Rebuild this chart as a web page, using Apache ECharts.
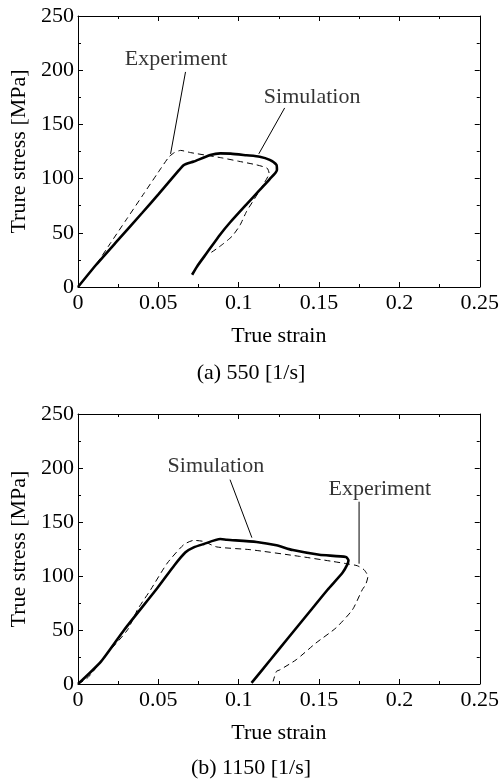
<!DOCTYPE html>
<html>
<head>
<meta charset="utf-8">
<script src="https://cdn.jsdelivr.net/npm/echarts@6/dist/echarts.min.js"></script>
<style>
  html, body { margin: 0; padding: 0; background: #fff; }
  #chart { width: 502px; height: 782px; }
</style>
</head>
<body>
<div id="chart"></div>
<script>
// Stress-strain curves at two strain rates: [true strain, true stress (MPa)]
const strainTicks = [0, 0.05, 0.1, 0.15, 0.2, 0.25];
const stressTicks = [0, 50, 100, 150, 200, 250];

// (a) 550 1/s
const expA = [
  [0, 0], [0.005, 9], [0.0114, 21], [0.02, 40], [0.03, 62], [0.04, 84], [0.05, 106],
  [0.0566, 120], [0.060, 124], [0.0638, 126], [0.070, 124], [0.080, 121.5], [0.090, 119],
  [0.100, 116], [0.111, 112.7], [0.1177, 109.6], [0.1189, 105], [0.1152, 94.3],
  [0.1101, 82], [0.1049, 69.7], [0.1008, 57], [0.0960, 47], [0.0905, 40],
  [0.0860, 35], [0.0830, 32]
];
const simA = [
  [0, 0], [0.0113, 20.5], [0.0247, 43], [0.040, 68.5], [0.050, 85.5], [0.0627, 107.5],
  [0.0658, 112.5], [0.072, 115.7], [0.0823, 121.7], [0.0885, 123.3], [0.095, 123],
  [0.1049, 121.5], [0.1131, 120.2], [0.1193, 117.3], [0.1235, 112.7], [0.1238, 108],
  [0.1193, 99.5], [0.1131, 89.5], [0.105, 76.5], [0.0946, 59.5], [0.0885, 48.5],
  [0.0802, 31.5], [0.0741, 19], [0.071, 11.3]
];

// (b) 1150 1/s
const expB = [
  [0, 0], [0.0062, 6], [0.0185, 28.7], [0.0309, 50.3], [0.037, 68.8], [0.0452, 87.3],
  [0.0556, 112], [0.0658, 129], [0.072, 133], [0.0781, 132], [0.0864, 126.9],
  [0.107, 124.4], [0.1378, 118.2], [0.1584, 113.5], [0.1687, 111], [0.1738, 109.5],
  [0.178, 105.8], [0.1804, 99.6], [0.179, 92], [0.1769, 87.3], [0.1708, 68.8],
  [0.1605, 51.9], [0.1481, 38], [0.1358, 22.5], [0.1255, 13], [0.1235, 11.7], [0.1214, 2.4]
];
const simB = [
  [0, 0], [0.0144, 21], [0.0288, 50.3], [0.0494, 88.9], [0.060, 110], [0.0669, 122],
  [0.072, 126.5], [0.078, 129.5], [0.0885, 134.2], [0.0926, 133.6], [0.1111, 131.5],
  [0.1235, 128.4], [0.1337, 124], [0.1502, 119.7], [0.1667, 117.6], [0.1683, 114.5],
  [0.1677, 111], [0.1646, 103], [0.1553, 87.3], [0.145, 68.5], [0.130, 41.2],
  [0.120, 22.9], [0.108, 1]
];

// Callouts: label, point on curve, end of leader, label anchor (data units)
const calloutsA = [
  { text: 'Experiment', tip: [0.0576, 122.8], end: [0.0669, 198.4], at: [0.061, 210.4] },
  { text: 'Simulation', tip: [0.1125, 122.8], end: [0.1286, 165.2], at: [0.1457, 175.4] }
];
const calloutsB = [
  { text: 'Simulation', tip: [0.1082, 135.5], end: [0.0946, 189.2], at: [0.0858, 201.2] },
  { text: 'Experiment', tip: [0.1749, 111.4], end: [0.1749, 168.8], at: [0.1878, 180.8] }
];

const FONT = '"Liberation Serif", "Times New Roman", serif';
const INK = '#000';

const chart = echarts.init(document.getElementById('chart'), null, { renderer: 'canvas' });

const grids = [
  { left: 77, top: 16, width: 405, height: 271 },
  { left: 77, top: 414, width: 405, height: 270 }
];

function fmtStrain(v) { return String(parseFloat(v.toFixed(3))); }

function frameAxis(extra) {
  return Object.assign({
    type: 'value',
    axisLine: { show: true, onZero: false, lineStyle: { color: INK, width: 1 } },
    axisTick: { show: true, inside: true, length: 5, lineStyle: { color: INK } },
    minorTick: { show: true, splitNumber: 2, length: 3, lineStyle: { color: INK } },
    splitLine: { show: false }
  }, extra);
}

function xAxisPair(gi) {
  const range = {
    gridIndex: gi, min: strainTicks[0], max: strainTicks[strainTicks.length - 1],
    interval: strainTicks[1] - strainTicks[0]
  };
  return [
    frameAxis(Object.assign({}, range, {
      position: 'bottom',
      axisLabel: { show: true, color: INK, fontFamily: FONT, fontSize: 22, margin: 5, formatter: fmtStrain },
      name: 'True strain', nameLocation: 'middle', nameGap: 38,
      nameTextStyle: { color: INK, fontFamily: FONT, fontSize: 22 }
    })),
    frameAxis(Object.assign({}, range, { position: 'top', axisLabel: { show: false } }))
  ];
}

function yAxisPair(gi, title) {
  const range = {
    gridIndex: gi, min: stressTicks[0], max: stressTicks[stressTicks.length - 1],
    interval: stressTicks[1] - stressTicks[0]
  };
  return [
    frameAxis(Object.assign({}, range, {
      position: 'left',
      axisLabel: { show: true, color: INK, fontFamily: FONT, fontSize: 22, margin: 4 },
      name: title, nameLocation: 'middle', nameGap: 48,
      nameTextStyle: { color: INK, fontFamily: FONT, fontSize: 22 }
    })),
    frameAxis(Object.assign({}, range, { position: 'right', axisLabel: { show: false } }))
  ];
}

function curve(data, axisIdx, dashed) {
  return {
    type: 'line', xAxisIndex: axisIdx, yAxisIndex: axisIdx, data: data,
    showSymbol: false, symbol: 'none', smooth: 0.2, animation: false,
    lineStyle: dashed
      ? { color: INK, width: 1, type: [6, 4] }
      : { color: INK, width: 2.6 },
    z: dashed ? 3 : 2
  };
}

function calloutSeries(list, axisIdx) {
  const out = [];
  list.forEach(c => {
    out.push({
      type: 'line', xAxisIndex: axisIdx, yAxisIndex: axisIdx, data: [c.tip, c.end],
      showSymbol: false, symbol: 'none', animation: false, silent: true,
      lineStyle: { color: INK, width: 1 }
    });
    out.push({
      type: 'scatter', xAxisIndex: axisIdx, yAxisIndex: axisIdx, data: [c.at],
      symbolSize: 0, animation: false, silent: true,
      label: { show: true, position: 'inside', formatter: c.text, color: INK, fontFamily: FONT, fontSize: 22 }
    });
  });
  return out;
}

const xa = xAxisPair(0), xb = xAxisPair(1);
const ya = yAxisPair(0, 'Trure stress [MPa]'), yb = yAxisPair(1, 'True stress [MPa]');

chart.setOption({
  backgroundColor: '#fff',
  animation: false,
  grid: grids,
  xAxis: [xa[0], xa[1], xb[0], xb[1]],
  yAxis: [ya[0], ya[1], yb[0], yb[1]],
  graphic: [
    { type: 'text', left: 'center', top: 362, style: { text: '(a) 550 [1/s]', fill: INK, font: '22px ' + FONT } },
    { type: 'text', left: 'center', top: 757, style: { text: '(b) 1150 [1/s]', fill: INK, font: '22px ' + FONT } }
  ],
  series: [
    curve(simA, 0, false), curve(expA, 0, true),
    curve(simB, 2, false), curve(expB, 2, true)
  ].concat(calloutSeries(calloutsA, 0), calloutSeries(calloutsB, 2))
});
</script>
</body>
</html>
